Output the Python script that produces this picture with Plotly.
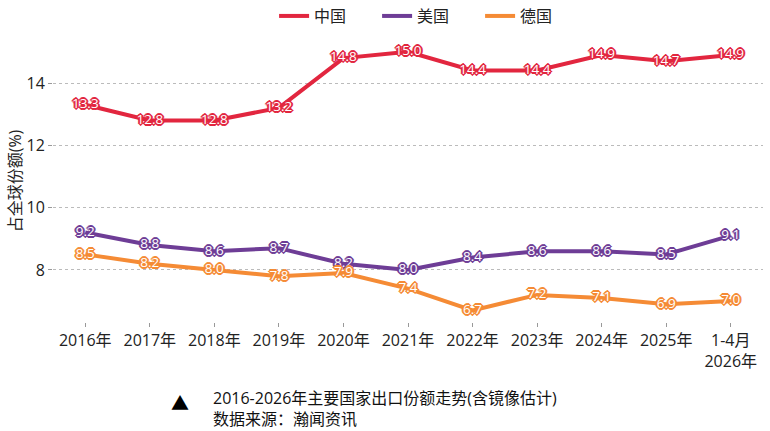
import plotly.graph_objects as go

categories = ["2016年", "2017年", "2018年", "2019年", "2020年", "2021年", "2022年", "2023年", "2024年", "2025年", "1-4月<br>2026年"]
china = [13.3, 12.8, 12.8, 13.2, 14.8, 15.0, 14.4, 14.4, 14.9, 14.7, 14.9]
usa = [9.2, 8.8, 8.6, 8.7, 8.2, 8.0, 8.4, 8.6, 8.6, 8.5, 9.1]
germany = [8.5, 8.2, 8.0, 7.8, 7.9, 7.4, 6.7, 7.2, 7.1, 6.9, 7.0]
y_ticks = [8, 10, 12, 14]

series = [("中国", china, "#e2263f"), ("美国", usa, "#6e3d96"), ("德国", germany, "#f58b35")]

FONT = "Open Sans, Noto Sans CJK SC, sans-serif"

fig = go.Figure()
for name, vals, col in series:
    sh = ", ".join(f"{dx}px {dy}px 0 {col}" for dx, dy in [(1,0),(-1,0),(0,1),(0,-1),(1,1),(-1,-1),(1,-1),(-1,1),(2,0),(-2,0),(0,2),(0,-2)])
    fig.add_trace(go.Scatter(
        x=categories, y=vals, name=name, mode="lines+text",
        line=dict(color=col, width=4),
        text=[f"{v:.1f}" for v in vals], textposition="middle center",
        textfont=dict(color="white", size=13.5, family=FONT, shadow=sh),
        cliponaxis=False,
    ))

fig.update_layout(
    width=770, height=431,
    margin=dict(l=53, r=7, t=40, b=109, autoexpand=False),
    paper_bgcolor="white", plot_bgcolor="white",
    font=dict(family=FONT, size=16, color="#222"),
    legend=dict(orientation="h", x=0.529, xanchor="center", y=1.085, yanchor="middle",
                font=dict(size=16, color="#222"), entrywidth=58, entrywidthmode="pixels"),
    xaxis=dict(type="category", range=[-0.5, 10.5], showgrid=False, showline=False, zeroline=False,
               ticks="outside", ticklen=4, tickcolor="#999", tickfont=dict(size=16, color="#222")),
    yaxis=dict(range=[6.33, 15.38], tickvals=y_ticks, showgrid=True, gridcolor="#bbb", griddash="dot",
               gridwidth=1, zeroline=False, showline=False, ticks="outside", ticklen=4, tickcolor="#999",
               tickfont=dict(size=16, color="#222"),
               title=dict(text="占全球份额(%)", font=dict(size=16, color="#222"), standoff=0)),
    annotations=[
        dict(text="▲", xref="paper", yref="paper", x=(180-53)/710, y=(322-403)/282, showarrow=False,
             font=dict(size=18, color="black"), xanchor="center", yanchor="middle"),
        dict(text="2016-2026年主要国家出口份额走势(含镜像估计)<br>数据来源：瀚闻资讯", xref="paper", yref="paper",
             x=(211-53)/710, y=(322-408)/282, showarrow=False, align="left",
             xanchor="left", yanchor="middle", font=dict(size=16, color="#111")),
    ],
)

fig.write_html("out.html")
